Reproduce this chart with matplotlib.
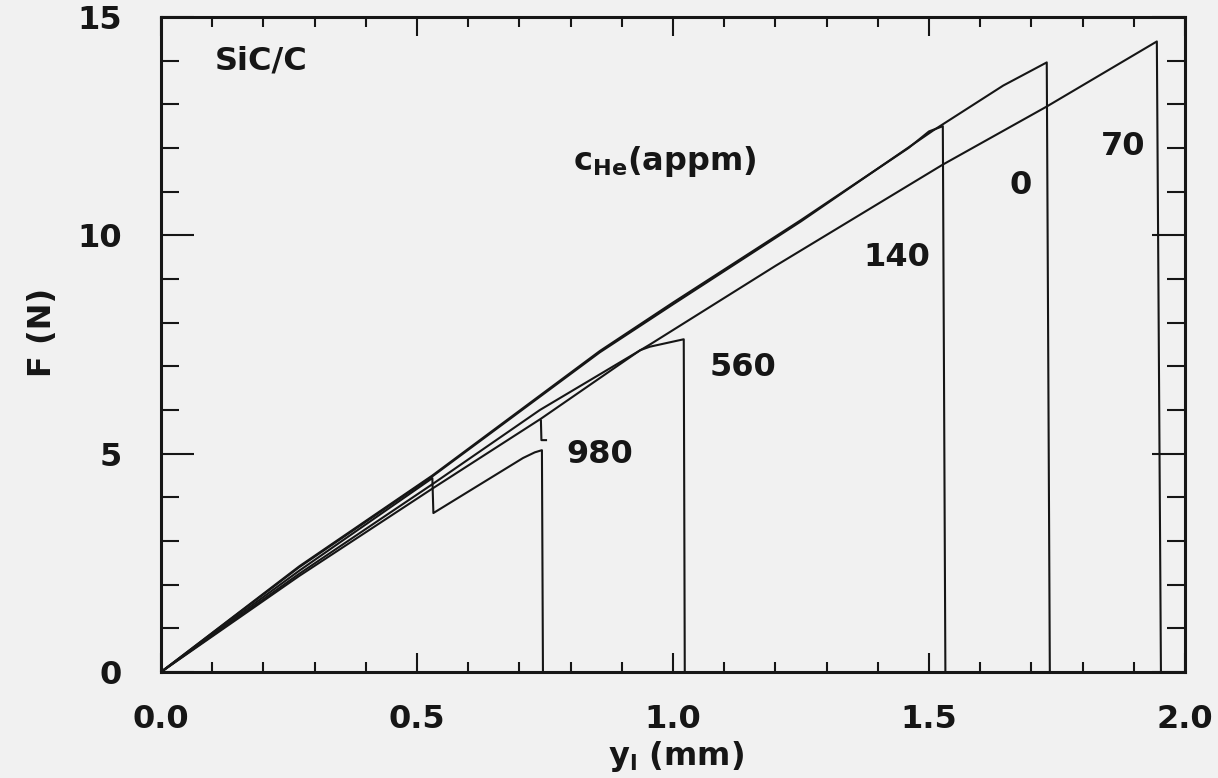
import numpy as np
import matplotlib
matplotlib.use('Agg')
import matplotlib.pyplot as plt
import matplotlib.ticker as ticker

plt.rcParams['font.family'] = 'DejaVu Sans'
plt.rcParams['font.weight'] = 'bold'
plt.rcParams['mathtext.fontset'] = 'custom'
plt.rcParams['mathtext.bf'] = 'DejaVu Sans:bold'
plt.rcParams['mathtext.rm'] = 'DejaVu Sans:bold'

# load-displacement curves, one per He concentration (appm)
x_0 = [0, 0.27, 0.53, 0.857, 1.0, 1.25, 1.508, 1.645, 1.73, 1.736]
y_0 = [0, 2.4, 4.48, 7.32, 8.42, 10.32, 12.4, 13.43, 13.96, 0]

x_140 = [0, 0.27, 0.53, 0.857, 1.0, 1.25, 1.46, 1.5, 1.527, 1.532]
y_140 = [0, 2.42, 4.5, 7.35, 8.46, 10.35, 12.0, 12.38, 12.5, 0]

x_70 = [0, 0.27, 0.53, 0.74, 0.955, 1.2, 1.527, 1.73, 1.945, 1.953]
y_70 = [0, 2.25, 4.3, 6.0, 7.5, 9.3, 11.62, 12.95, 14.44, 0]

x_560 = [0, 0.27, 0.53, 0.742, 0.936, 0.955, 1.021, 1.023]
y_560 = [0, 2.2, 4.2, 5.8, 7.37, 7.45, 7.62, 0]

x_hook = [0.742, 0.743, 0.752]
y_hook = [5.76, 5.31, 5.31]

x_980 = [0, 0.27, 0.53, 0.532, 0.707, 0.73, 0.744, 0.746]
y_980 = [0, 2.32, 4.44, 3.64, 4.9, 5.03, 5.08, 0]

labels = ['0', '70', '140', '560', '980']
label_x = [1.678, 1.879, 1.4375, 1.137, 0.857]
label_y = [11.14, 12.04, 9.5, 6.98, 4.97]

bg = '#f1f1f1'
ink = '#161616'
fs = 23

fig = plt.figure(figsize=(12.18, 7.78), dpi=100, facecolor=bg)
ax = fig.add_axes([161 / 1218, 1 - 672 / 778, (1185 - 161) / 1218, (672 - 17) / 778])
ax.set_facecolor(bg)

for xs, ys in [(x_0, y_0), (x_140, y_140), (x_70, y_70), (x_560, y_560),
               (x_hook, y_hook), (x_980, y_980)]:
    ax.plot(xs, ys, color=ink, lw=1.5)

for t, lx, ly in zip(labels, label_x, label_y):
    ax.text(lx, ly, t, fontsize=fs, fontweight='bold', ha='center', va='center', color=ink)

ax.text(0.105, 14.0, 'SiC/C', fontsize=fs, fontweight='bold', va='center', color=ink)
ax.text(0.805, 11.7, r'$\mathbf{c_{He}}$(appm)', fontsize=fs, fontweight='bold', va='center', color=ink)

ax.set_xlim(0, 2.0)
ax.set_ylim(0, 15)
ax.xaxis.set_major_locator(ticker.MultipleLocator(0.5))
ax.xaxis.set_minor_locator(ticker.MultipleLocator(0.1))
ax.yaxis.set_major_locator(ticker.MultipleLocator(5))
ax.yaxis.set_minor_locator(ticker.MultipleLocator(1))
ax.xaxis.set_major_formatter(ticker.FormatStrFormatter('%.1f'))
ax.yaxis.set_major_formatter(ticker.FormatStrFormatter('%d'))

ax.tick_params(which='both', direction='in', top=True, right=True, color=ink,
               labelsize=fs, labelcolor=ink)
ax.tick_params(axis='x', which='major', length=14, width=1.5, pad=23)
ax.tick_params(axis='x', which='minor', length=7, width=1.5)
ax.tick_params(axis='y', which='major', length=24, width=1.5, pad=28)
ax.tick_params(axis='y', which='minor', length=13, width=1.5)
for lab in ax.get_xticklabels() + ax.get_yticklabels():
    lab.set_fontweight('bold')
for s in ax.spines.values():
    s.set_linewidth(2.2)
    s.set_color(ink)

fig.text(676 / 1218, 1 - 757 / 778, r'$\mathbf{y_l}$ (mm)', fontsize=fs, fontweight='bold',
         ha='center', va='center', color=ink)
fig.text(42 / 1218, 1 - 332 / 778, 'F (N)', fontsize=fs, fontweight='bold', rotation=90,
         ha='center', va='center', color=ink)

fig.savefig('out.png', dpi=100, facecolor=bg)
